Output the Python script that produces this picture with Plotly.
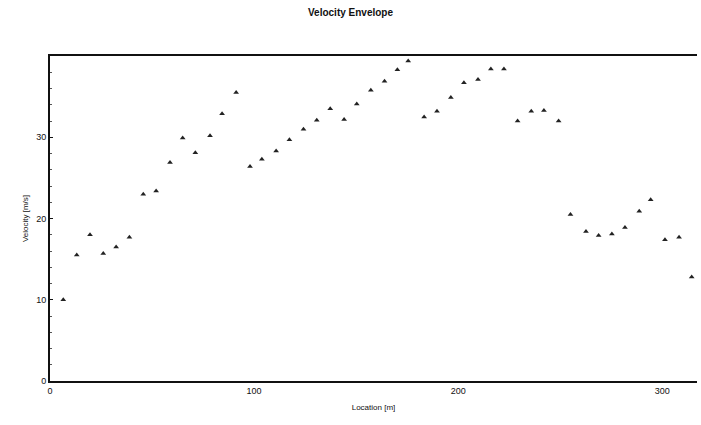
import plotly.graph_objects as go

location_m = [6.5, 13.1, 19.6, 26.1, 32.4, 38.9, 45.7, 52.0, 58.8, 65.0,
              71.2, 78.4, 84.3, 91.2, 98.0, 103.8, 110.8, 117.3, 124.2, 130.7,
              137.3, 144.1, 150.3, 157.2, 163.9, 170.2, 175.5, 183.3, 189.6, 196.4,
              202.8, 209.7, 216.0, 222.4, 229.1, 235.8, 242.0, 249.2, 255.0, 262.6,
              268.8, 275.3, 281.7, 288.7, 294.3, 301.3, 308.2, 314.4]
velocity_ms = [10.0, 15.5, 18.0, 15.7, 16.5, 17.7, 23.0, 23.4, 26.9, 29.9,
               28.1, 30.2, 32.9, 35.5, 26.4, 27.3, 28.3, 29.7, 31.0, 32.1,
               33.5, 32.2, 34.1, 35.8, 36.9, 38.3, 39.4, 32.5, 33.2, 34.9,
               36.7, 37.1, 38.4, 38.4, 32.0, 33.2, 33.3, 32.0, 20.5, 18.4,
               17.9, 18.1, 18.9, 20.9, 22.3, 17.4, 17.7, 12.8]

x_ticks = [0, 100, 200, 300]
y_ticks = [0, 10, 20, 30]

fig = go.Figure()
fig.add_trace(go.Scatter(
    x=location_m, y=velocity_ms, mode="markers",
    marker=dict(symbol="triangle-up", size=5, color="#222222"),
    showlegend=False, cliponaxis=False,
))

font_family = "Liberation Sans, Arial, sans-serif"
fig.update_layout(
    width=701, height=425,
    margin=dict(l=50, r=4, t=56, b=44, autoexpand=False),
    paper_bgcolor="#ffffff", plot_bgcolor="#ffffff",
    font=dict(family=font_family, size=9, color="#111111"),
    title=dict(text="<b>Velocity Envelope</b>", x=0.5, xanchor="center",
               y=0.978, yanchor="top", font=dict(size=10, color="#111111")),
)
fig.update_xaxes(
    range=[0, 317], tickvals=x_ticks, ticktext=[str(v) for v in x_ticks],
    showgrid=False, zeroline=False, showline=True, linecolor="#111111",
    linewidth=2, mirror=True, ticks="", tickfont=dict(size=9),
    automargin=False,
    title=dict(text="Location [m]", font=dict(size=8), standoff=10),
)
fig.update_yaxes(
    range=[0, 40], tickvals=y_ticks, ticktext=[str(v) for v in y_ticks],
    showgrid=False, zeroline=False, showline=True, linecolor="#111111",
    linewidth=2, mirror=False, ticks="inside", ticklen=3, tickcolor="#111111",
    tickfont=dict(size=9), automargin=False,
    minor=dict(dtick=2, ticks="inside", ticklen=2, tickcolor="#555555"),
    title=dict(text="Velocity [m/s]", font=dict(size=8), standoff=6),
)

fig.write_html("out.html", config={"displayModeBar": False},
               post_script="document.body.style.margin='0';")
